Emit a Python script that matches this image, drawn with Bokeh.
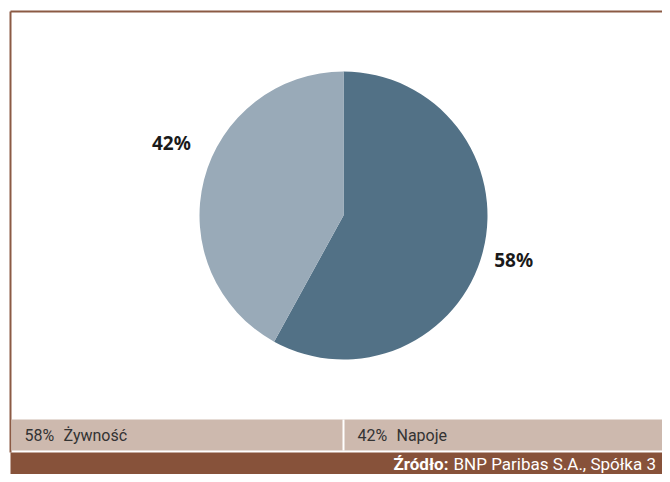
import math
from bokeh.plotting import figure
from bokeh.models import Range1d, ColumnDataSource
from bokeh.core.properties import value
from bokeh.embed import file_html
from bokeh.resources import INLINE

# ---- data ----
categories = ["Żywność", "Napoje"]
shares = [58, 42]
slice_colors = ["#527186", "#99aab8"]
source_bold = "Źródło:"
source_text = "BNP Paribas S.A., Spółka 3"

# ---- picture-like coordinates (y measured from top) ----
W, H = 662, 474
def Y(py):
    return H - py

p = figure(width=W, height=H, output_backend="svg", toolbar_location=None,
           x_range=Range1d(0, W), y_range=Range1d(0, H), min_border=0)
p.axis.visible = False
p.grid.visible = False
p.outline_line_color = None
p.background_fill_color = "white"
p.border_fill_color = "white"

FONT = "Noto Sans"
NARROW = "Roboto"

# frame lines
p.segment(x0=[10, 10], y0=[Y(11), Y(11)], x1=[W, 10], y1=[Y(11), Y(452)],
          line_color="#8b5a44", line_width=2)

# pie
cx, cy, r = 343, Y(215), 144
total = sum(shares)
starts, ends, mids = [], [], []
acc = 0.0
for s in shares:
    a0 = math.pi / 2 - 2 * math.pi * acc / total
    acc += s
    a1 = math.pi / 2 - 2 * math.pi * acc / total
    starts.append(a0)
    ends.append(a1)
    mids.append((a0 + a1) / 2)

src = ColumnDataSource(dict(start=starts, end=ends, color=slice_colors))
p.wedge(x=cx, y=cy, radius=r, start_angle="start", end_angle="end",
        direction="clock", fill_color="color", line_color=None, source=src)

# slice labels
lab_r = 1.22 * r
lx = [cx + lab_r * math.cos(m) - (0 if i == 0 else 2) for i, m in enumerate(mids)]
ly = [cy + lab_r * math.sin(m) + (-1 if i == 0 else 29) for i, m in enumerate(mids)]
p.text(x=lx, y=ly, text=[f"{s}%" for s in shares], text_font=value(FONT),
       text_font_style="bold", text_font_size="19px", text_color="#1a1a1a",
       text_align="center", text_baseline="middle")

# legend band
top_l, bot_l = 419, 450
p.quad(left=[11], right=[W], top=[Y(top_l)], bottom=[Y(bot_l)],
       fill_color="#cdb9ae", line_color=None)
cell_w = 333
n = len(categories)
sep_x = [10 + cell_w * (i + 1) for i in range(n - 1)]
p.segment(x0=sep_x, y0=[Y(top_l)] * len(sep_x), x1=sep_x, y1=[Y(bot_l)] * len(sep_x),
          line_color="white", line_width=2)
mid_l = (top_l + bot_l) / 2
p.text(x=[10 + cell_w * i + 14 for i in range(n)], y=[Y(mid_l)] * n,
       text=[f"{s}%" for s in shares], text_font=value(NARROW), text_font_size="16px",
       text_color="#333333", text_baseline="middle")
p.text(x=[10 + cell_w * i + 53 for i in range(n)], y=[Y(mid_l)] * n,
       text=categories, text_font=value(NARROW), text_font_size="16px",
       text_color="#333333", text_baseline="middle")

# source bar
top_s = 452
p.quad(left=[10], right=[W], top=[Y(top_s)], bottom=[0],
       fill_color="#87523a", line_color=None)
mid_s = (top_s + H) / 2
p.text(x=[448], y=[Y(mid_s)], text=[source_bold], text_font=value(NARROW),
       text_font_style="bold", text_font_size="17px", text_color="white",
       text_align="right", text_baseline="middle")
p.text(x=[453], y=[Y(mid_s)], text=[source_text], text_font=value(NARROW),
       text_font_size="17px", text_color="white",
       text_align="left", text_baseline="middle")

open("out.html", "w").write(file_html(p, INLINE))
